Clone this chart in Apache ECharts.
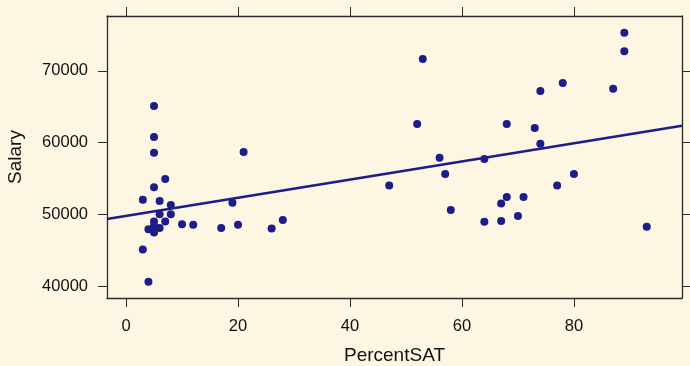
<!DOCTYPE html>
<html>
<head>
<meta charset="utf-8">
<script src="https://cdn.jsdelivr.net/npm/echarts@6/dist/echarts.min.js"></script>
<style>
    html, body { margin: 0; padding: 0; background: #fdf6e3; }
    #chart { width: 690px; height: 366px; }
</style>
</head>
<body>
<div id="chart"></div>
<script>
// percent of students taking the SAT, per state
const percentSAT = [5, 5, 5, 7, 5, 3, 6, 8, 6, 8, 5, 7, 4, 6, 5, 5, 10, 12, 3, 4, 21, 19, 17, 20, 26, 28,
    89, 89, 53, 78, 74, 87, 52, 68, 73, 74, 56, 64, 57, 80, 47, 77, 68, 71, 67, 58, 70, 64, 67, 93]
// average teacher salary
const salary = [65100, 60800, 58600, 54950, 53800, 52050, 51900, 51350, 50050, 50050, 49050, 49050, 47950, 48150, 47500, 48400, 48650, 48600, 45150, 40650, 58700, 51650, 48150, 48600, 48050, 49250,
    75300, 72750, 71650, 68300, 67200, 67500, 62600, 62600, 62050, 59850, 57900, 57750, 55650, 55650, 54050, 54050, 52450, 52450, 51550, 50650, 49800, 49000, 49100, 48300]

const xTicks = [0, 20, 40, 60, 80]
const yTicks = [40000, 50000, 60000, 70000]
const xRange = [-3.4, 99.3]
const yRange = [38390, 77640]

const ink = '#1c1c8a'
const frame = '#2b2b2b'
const font = 'Liberation Sans, Arial, sans-serif'

// least squares fit, like panel.lmline
function lmFit(xs, ys) {
    let n = xs.length
    let mx = xs.reduce((a, b) => a + b, 0) / n
    let my = ys.reduce((a, b) => a + b, 0) / n
    let sxy = 0, sxx = 0
    for (let i = 0; i < n; i++) {
        sxy += (xs[i] - mx) * (ys[i] - my)
        sxx += (xs[i] - mx) * (xs[i] - mx)
    }
    let b = sxy / sxx
    return { a: my - b * mx, b }
}
const fit = lmFit(percentSAT, salary)

const myChart = echarts.init(document.getElementById('chart'))

const baseAxis = {
    axisLine: { show: true, onZero: false, lineStyle: { color: frame, width: 1.3 } },
    axisTick: { show: true, length: 9, lineStyle: { color: frame, width: 1 } },
    splitLine: { show: false }
}

let option = {
    backgroundColor: '#fdf6e3',
    animation: false,
    grid: { left: 107, right: 8, top: 16, bottom: 68, outerBoundsMode: 'none', containLabel: false },
    xAxis: [
        Object.assign({}, baseAxis, {
            type: 'value', position: 'bottom', min: xRange[0], max: xRange[1],
            axisTick: Object.assign({}, baseAxis.axisTick, { customValues: xTicks }),
            axisLabel: { customValues: xTicks, margin: 20, fontSize: 16.5, color: '#111', fontFamily: font },
            name: 'PercentSAT', nameLocation: 'middle', nameGap: 48,
            nameTextStyle: { fontSize: 19, color: '#111', fontFamily: font }
        }),
        Object.assign({}, baseAxis, {
            type: 'value', position: 'top', min: xRange[0], max: xRange[1],
            axisTick: Object.assign({}, baseAxis.axisTick, { customValues: xTicks }),
            axisLabel: { show: false }
        })
    ],
    yAxis: [
        Object.assign({}, baseAxis, {
            type: 'value', position: 'left', min: yRange[0], max: yRange[1],
            axisTick: Object.assign({}, baseAxis.axisTick, { customValues: yTicks }),
            axisLabel: {
                customValues: yTicks, margin: 19, fontSize: 16.5, color: '#111', fontFamily: font,
                formatter: v => String(v)
            },
            name: 'Salary', nameLocation: 'middle', nameGap: 82, nameRotate: 90,
            nameTextStyle: { fontSize: 19, color: '#111', fontFamily: font }
        }),
        Object.assign({}, baseAxis, {
            type: 'value', position: 'right', min: yRange[0], max: yRange[1],
            axisTick: Object.assign({}, baseAxis.axisTick, { customValues: yTicks }),
            axisLabel: { show: false }
        })
    ],
    series: [
        {
            type: 'scatter',
            symbolSize: 8,
            itemStyle: { color: ink, opacity: 1 },
            data: percentSAT.map((x, i) => [x, salary[i]])
        },
        {
            type: 'line',
            symbol: 'none',
            lineStyle: { color: ink, width: 2.5 },
            data: xRange.map(x => [x, fit.a + fit.b * x])
        }
    ]
}
myChart.setOption(option)
</script>
</body>
</html>
